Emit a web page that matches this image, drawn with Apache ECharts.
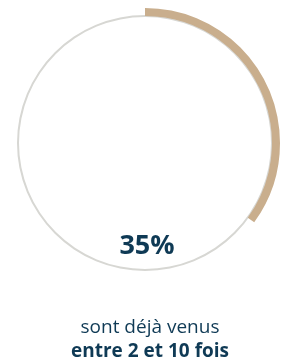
<!DOCTYPE html>
<html>
<head>
<meta charset="utf-8">
<script src="https://cdn.jsdelivr.net/npm/echarts@6/dist/echarts.min.js"></script>
<style>
html, body { margin: 0; padding: 0; background: #fff; }
#container { width: 281px; height: 364px; }
</style>
</head>
<body>
<div id="container"></div>
<script>
var share = [35];
var shareLabel = '35%';
var captionLines = ['sont déjà venus', 'entre 2 et 10 fois'];

var dom = document.getElementById('container');
var myChart = echarts.init(dom, null, { renderer: 'canvas' });

var option = {
    animation: false,
    title: [{
        text: shareLabel,
        left: 142,
        top: 228,
        textAlign: 'center',
        textStyle: {
            fontFamily: 'Open Sans',
            fontWeight: 'bold',
            fontSize: 27,
            color: '#0f3a55'
        }
    }, {
        text: '{a|' + captionLines[0] + '}\n{b|' + captionLines[1] + '}',
        left: 145,
        top: 311,
        textAlign: 'center',
        textStyle: {
            rich: {
                a: { fontFamily: 'Open Sans', fontSize: 19, fontWeight: 'normal', color: '#0f3a55', lineHeight: 24, align: 'center' },
                b: { fontFamily: 'Open Sans', fontSize: 19, fontWeight: 'bold', color: '#0f3a55', lineHeight: 24, align: 'center' }
            }
        }
    }],
    series: [{
        // fond gris
        type: 'pie',
        silent: true,
        center: [145, 143],
        radius: [126, 128],
        label: { show: false },
        itemStyle: { color: '#d7d7d3' },
        data: [100]
    }, {
        type: 'pie',
        silent: true,
        center: [145, 143],
        radius: [127, 135],
        startAngle: 90,
        clockwise: true,
        label: { show: false },
        data: [
            { value: share[0], itemStyle: { color: '#c9ae8d' } },
            { value: 100 - share[0], itemStyle: { color: 'transparent' } }
        ]
    }]
};

myChart.setOption(option);
</script>
</body>
</html>
